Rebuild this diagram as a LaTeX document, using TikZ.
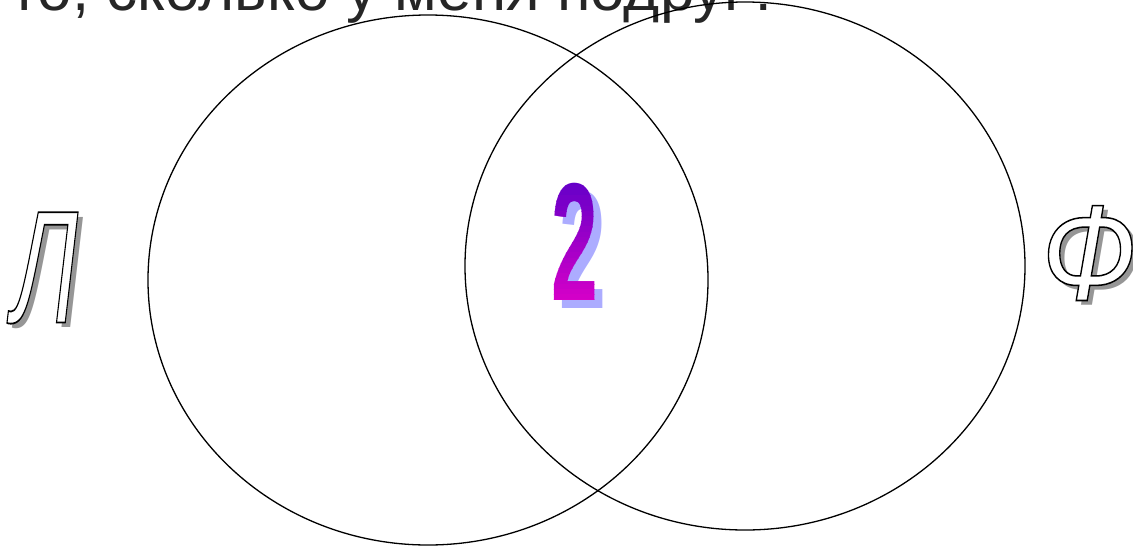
\documentclass[tikz,border=0pt]{standalone}
\usepackage{fontspec}
\setmainfont{Liberation Sans}
\definecolor{twotop}{RGB}{100,0,200}
\definecolor{twobot}{RGB}{215,0,200}
\definecolor{twoshadow}{RGB}{172,172,255}
\definecolor{lettershadow}{RGB}{150,150,150}
\newcommand\outlined[1]{{\special{pdf:code 2 Tr 1.8 w}\color{white}\special{pdf:code 0 G}#1\special{pdf:code 0 Tr}}}
\begin{document}
\begin{tikzpicture}[x=1pt,y=-1pt,
  venn/.style={draw=black,line width=1.3pt},
  bigletter/.style={inner sep=0pt,font=\fontsize{160}{160}\selectfont\itshape},
  digit/.style={inner sep=0pt,font=\fontsize{168}{168}\selectfont\bfseries}]
\useasboundingbox (0,0) rectangle (1133,547);
\node[anchor=base west,inner sep=0pt,font=\fontsize{62}{62}\selectfont,text=black!85] (title) at (10,10) {то, сколько у меня подруг?};
\draw[venn] (428,280) ellipse [x radius=280,y radius=265] node (left) {};
\draw[venn] (745,266) ellipse [x radius=280,y radius=264] node (right) {};
% letter L
\node[bigletter,text=lettershadow] (lshadow) at (50,273) {\scalebox{0.6}[1]{Л}};
\node[bigletter] (lletter) at (45,268) {\scalebox{0.6}[1]{\outlined{Л}}};
% letter F
\node[bigletter,text=lettershadow] (fshadow) at (1094,258) {\scalebox{0.75}[0.85]{Ф}};
\node[bigletter] (fletter) at (1089,253) {\scalebox{0.75}[0.85]{\outlined{Ф}}};
% digit 2
\node[digit,text=twoshadow] (twoshadow) at (583,250) {\scalebox{0.5}[1]{2}};
\foreach \i in {0,...,23}{
  \pgfmathtruncatemacro\p{100-\i*100/23}
  \begin{scope}
    \clip (540,{180+\i*5.2}) rectangle (620,{180+(\i+1)*5.2+0.3});
    \node[digit,text=twotop!\p!twobot] (two\i) at (575,242) {\scalebox{0.5}[1]{2}};
  \end{scope}
}
\end{tikzpicture}
\end{document}
